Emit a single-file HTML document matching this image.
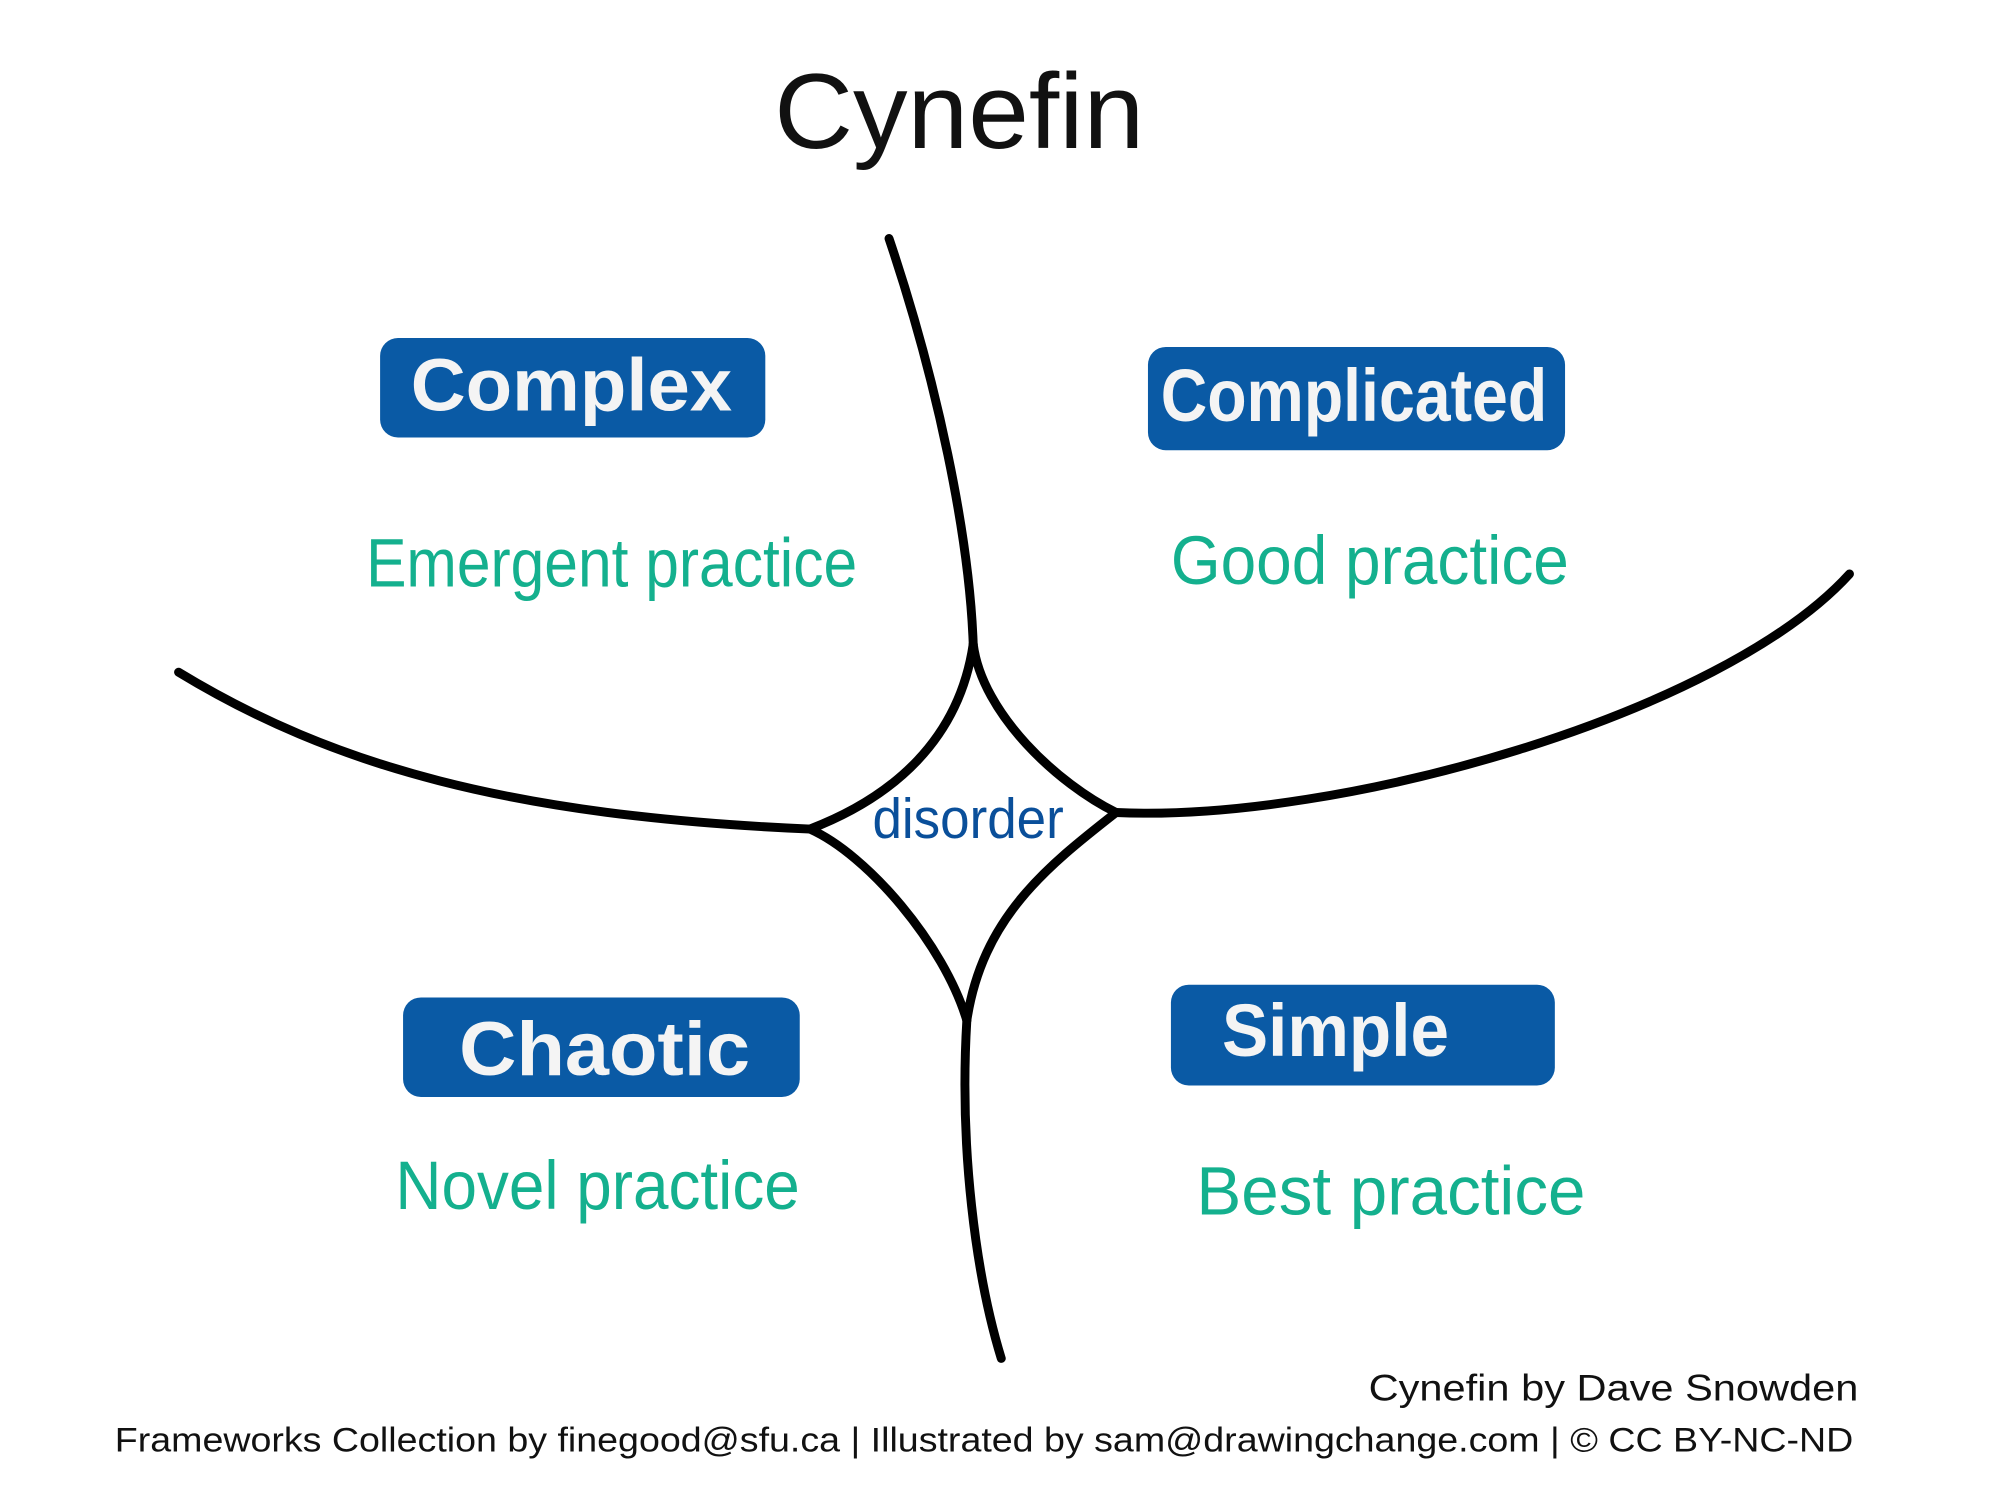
<!DOCTYPE html>
<html><head><style>html,body{margin:0;padding:0;background:#fff}svg{display:block}</style></head>
<body>
<svg width="2000" height="1500" viewBox="0 0 1568 1176" xmlns="http://www.w3.org/2000/svg">
<rect width="1568" height="1176" fill="#fff"/>
<text x="752" y="116" font-family="Liberation Sans, sans-serif" font-size="84" text-anchor="middle" textLength="290" lengthAdjust="spacingAndGlyphs" fill="#111">Cynefin</text>
<g fill="none" stroke="#000" stroke-width="7" stroke-linecap="round">
<path d="M697 187 C735 300 760 420 763 505"/>
<path d="M140 527 C260 600 400 640 635 650"/>
<path d="M875 637 C1050 645 1350 560 1450 450"/>
<path d="M758 800 C752 900 765 1000 785 1065"/>
<path d="M763 505 C752 580 700 625 635 650"/>
<path d="M763 505 C770 560 830 615 875 637"/>
<path d="M635 650 C680 670 740 740 758 800"/>
<path d="M875 637 C820 680 770 720 758 800"/>
</g>
<g fill="#0a5aa5">
<rect x="298" y="265" width="302" height="78" rx="14"/>
<rect x="900" y="272" width="327" height="81" rx="14"/>
<rect x="316" y="782" width="311" height="78" rx="14"/>
<rect x="918" y="772" width="301" height="79" rx="14"/>
</g>
<g font-family="Liberation Sans, sans-serif" fill="#f4f4f4" font-weight="bold">
<text x="322" y="322" font-size="58" textLength="252" lengthAdjust="spacingAndGlyphs">Complex</text>
<text x="910" y="330" font-size="58" textLength="303" lengthAdjust="spacingAndGlyphs">Complicated</text>
<text x="360" y="843" font-size="60" textLength="228" lengthAdjust="spacingAndGlyphs">Chaotic</text>
<text x="958" y="828" font-size="58" textLength="178" lengthAdjust="spacingAndGlyphs">Simple</text>
</g>
<g font-family="Liberation Sans, sans-serif" fill="#14b08e" font-size="54">
<text x="287" y="460" textLength="385" lengthAdjust="spacingAndGlyphs">Emergent practice</text>
<text x="918" y="458" textLength="312" lengthAdjust="spacingAndGlyphs">Good practice</text>
<text x="310" y="948" textLength="317" lengthAdjust="spacingAndGlyphs">Novel practice</text>
<text x="938" y="952" textLength="305" lengthAdjust="spacingAndGlyphs">Best practice</text>
</g>
<text x="684" y="657" font-family="Liberation Sans, sans-serif" font-size="44" fill="#0a4f9a" textLength="150" lengthAdjust="spacingAndGlyphs">disorder</text>
<g font-family="Liberation Sans, sans-serif" fill="#111">
<text x="1457" y="1098" font-size="29" text-anchor="end" textLength="384" lengthAdjust="spacingAndGlyphs">Cynefin by Dave Snowden</text>
<text x="90" y="1138" font-size="27" textLength="1363" lengthAdjust="spacingAndGlyphs">Frameworks Collection by finegood@sfu.ca | Illustrated by sam@drawingchange.com | © CC BY-NC-ND</text>
</g>
</svg>
</body></html>
